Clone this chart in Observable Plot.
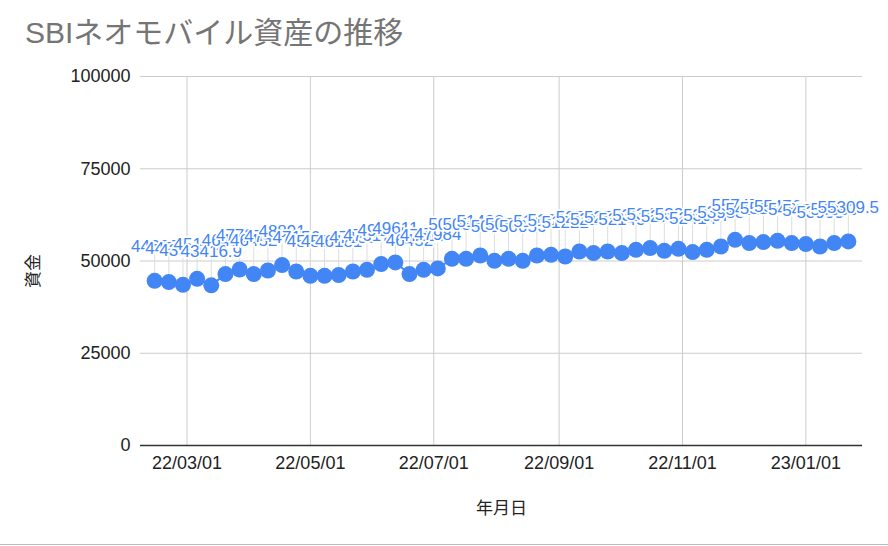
<!DOCTYPE html>
<html><head><meta charset="utf-8">
<script src="https://cdn.jsdelivr.net/npm/d3@7"></script>
<script src="https://cdn.jsdelivr.net/npm/@observablehq/plot@0.6"></script>
<style>
html,body{margin:0;padding:0;background:#fff;}
#wrap{position:relative;width:888px;height:546px;overflow:hidden;font-family:Arial,"Liberation Sans","Noto Sans CJK JP",sans-serif;}
#chart{position:absolute;left:0;top:0;}
#title{position:absolute;left:25px;top:14px;font-size:30px;line-height:38px;color:#757575;font-family:Arial,"Liberation Sans","Noto Sans CJK JP",sans-serif;white-space:nowrap;}
#border{position:absolute;left:0;top:544px;width:888px;height:1px;background:#bdbdbd;}
</style></head><body>
<div id="wrap"><div id="chart"></div><div id="title">SBIネオモバイル資産の推移</div><div id="border"></div></div>
<script>
const titleText = "SBIネオモバイル資産の推移";
const xLabel = "年月日";
const yLabel = "資金";
const dates = [
 "2022-02-13","2022-02-20","2022-02-27","2022-03-06","2022-03-13","2022-03-20","2022-03-27",
 "2022-04-03","2022-04-10","2022-04-17","2022-04-24","2022-05-01","2022-05-08","2022-05-15",
 "2022-05-22","2022-05-29","2022-06-05","2022-06-12","2022-06-19","2022-06-26","2022-07-03",
 "2022-07-10","2022-07-17","2022-07-24","2022-07-31","2022-08-07","2022-08-14","2022-08-21",
 "2022-08-28","2022-09-04","2022-09-11","2022-09-18","2022-09-25","2022-10-02","2022-10-09",
 "2022-10-16","2022-10-23","2022-10-30","2022-11-06","2022-11-13","2022-11-20","2022-11-27",
 "2022-12-04","2022-12-11","2022-12-18","2022-12-25","2023-01-01","2023-01-08","2023-01-15",
 "2023-01-22"];
const values = [
 44636, 44284, 43552, 45178, 43416.9, 46452, 47700,
 46452, 47427, 48891, 47156, 45991, 45991, 46181,
 47156, 47617, 49162, 49611, 46452, 47617, 47984,
 50598, 50598, 51493, 50056, 50598, 50056, 51493,
 51682, 51222, 52576, 52143, 52576, 52143, 53037,
 53498, 52766, 53308, 52414, 53037, 53933, 55747,
 54853, 55124, 55476, 54853, 54582, 53933, 54853,
 55309.5];
const xTicks = ["2022-03-01","2022-05-01","2022-07-01","2022-09-01","2022-11-01","2023-01-01"];
const yTicks = [0, 25000, 50000, 75000, 100000];
const xDomain = ["2022-02-06","2023-01-29"];

const data = dates.map((d, i) => ({date: new Date(d + "T00:00:00Z"), value: values[i]}));
const xt = xTicks.map(d => new Date(d + "T00:00:00Z"));
const blue = "#4285F4";
const font = "Arial, 'Liberation Sans', 'Noto Sans CJK JP', sans-serif";

const chart = Plot.plot({
  width: 888, height: 546,
  marginLeft: 140, marginRight: 26, marginTop: 76, marginBottom: 101,
  style: {fontFamily: font, fontSize: "18px", color: "#222", background: "transparent", overflow: "visible"},
  x: {type: "utc", domain: xDomain.map(d => new Date(d + "T00:00:00Z"))},
  y: {domain: [0, 100000]},
  marks: [
    Plot.gridY(yTicks, {stroke: "#cccccc", strokeOpacity: 1}),
    Plot.gridX(xt, {stroke: "#cccccc", strokeOpacity: 1}),
    Plot.ruleY([0], {stroke: "#333333", strokeWidth: 1.5}),
    Plot.axisY(yTicks, {tickSize: 0, tickPadding: 10, fontSize: 18, fill: "#222", label: null, tickFormat: d => String(d)}),
    Plot.axisX(xt, {tickSize: 0, tickPadding: 11, fontSize: 18, fill: "#222", label: null, tickFormat: d3.utcFormat("%y/%m/%d")}),
    Plot.ruleX(data, {x: "date", y1: "value", y2: "value", insetTop: -28, stroke: "#dddddd", strokeWidth: 1}),
    Plot.line(data, {x: "date", y: "value", stroke: blue, strokeWidth: 2}),
    Plot.dot(data, {x: "date", y: "value", r: 8, fill: blue, stroke: "none"}),
    Plot.text(data, {x: "date", y: "value", text: d => String(d.value), dy: -34, fontSize: 17, fill: blue, stroke: "white", strokeWidth: 3.5, textAnchor: "middle", lineAnchor: "middle"}),
    Plot.text([yLabel], {frameAnchor: "left", dx: -107, dy: 10, rotate: -90, fontSize: 17, fill: "#222", textAnchor: "middle", lineAnchor: "middle"}),
    Plot.text([xLabel], {frameAnchor: "bottom", dy: 63, fontSize: 17, fill: "#222", textAnchor: "middle", lineAnchor: "middle"})
  ]
});
document.getElementById("chart").appendChild(chart);
document.getElementById("title").textContent = titleText;
</script>
</body></html>
